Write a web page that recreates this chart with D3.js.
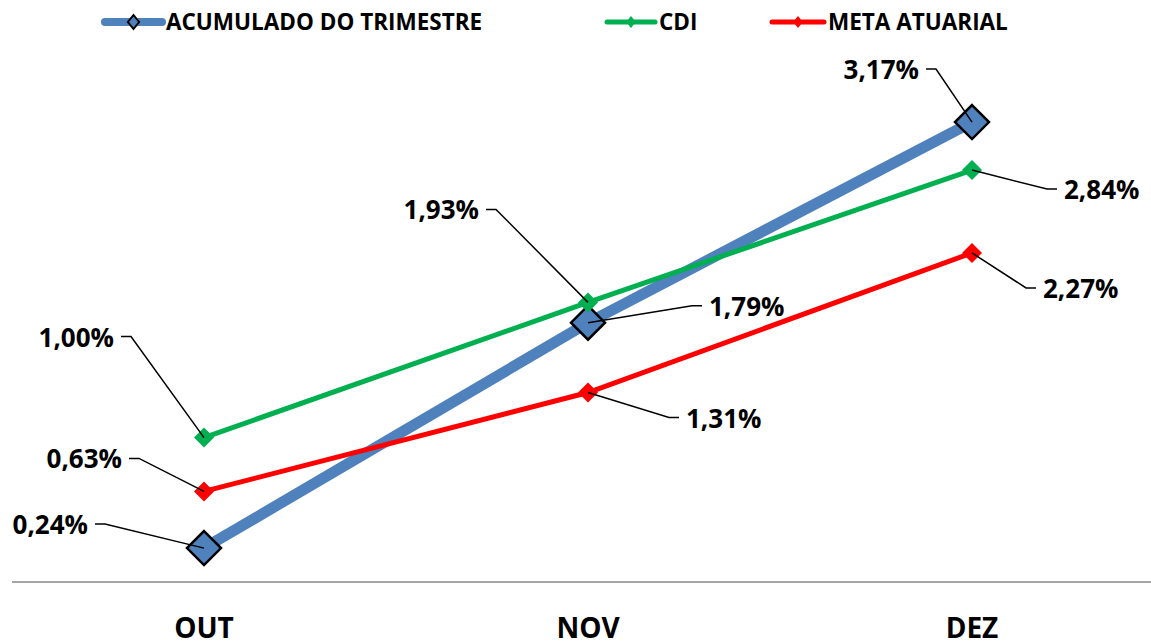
<!DOCTYPE html>
<html>
<head>
<meta charset="utf-8">
<script src="https://cdn.jsdelivr.net/npm/d3@7"></script>
<style>
  body { margin: 0; background: #fff; }
  svg text { font-family: "Open Sans", "Liberation Sans", sans-serif; font-weight: bold; fill: #000; }
</style>
</head>
<body>
<svg id="chart" width="1151" height="641"></svg>
<script>
const months = ['OUT', 'NOV', 'DEZ'];
const acumulado = [0.24, 1.79, 3.17];
const cdi = [1.00, 1.93, 2.84];
const meta = [0.63, 1.31, 2.27];
const seriesNames = ['ACUMULADO DO TRIMESTRE', 'CDI', 'META ATUARIAL'];

const svg = d3.select('#chart');
const x = d3.scalePoint().domain(months).range([204, 972]);
const y = d3.scaleLinear().domain([0, 4]).range([583, 1.4]);

const series = [
  { name: seriesNames[0], values: acumulado, color: '#4f81bd', width: 11, marker: 17, stroke: '#000' },
  { name: seriesNames[1], values: cdi, color: '#00b050', width: 5, marker: 10, stroke: null },
  { name: seriesNames[2], values: meta, color: '#ff0000', width: 5, marker: 10, stroke: null },
];

// label offsets relative to the point (elbow position, side of text)
const labelPos = [
  [{ dx: -99, dy: -24, side: 'left' }, { dx: 104, dy: -17, side: 'right' }, { dx: -36, dy: -53, side: 'left' }],
  [{ dx: -73, dy: -101, side: 'left' }, { dx: -92, dy: -93, side: 'left' }, { dx: 75, dy: 19, side: 'right' }],
  [{ dx: -65, dy: -33, side: 'left' }, { dx: 81, dy: 25, side: 'right' }, { dx: 54, dy: 35, side: 'right' }],
];

// axis baseline
svg.append('line')
  .attr('x1', 12).attr('x2', 1151)
  .attr('y1', 582).attr('y2', 582)
  .attr('stroke', '#a6a6a6').attr('stroke-width', 2);

svg.selectAll('.xlab').data(months).join('text')
  .attr('class', 'xlab')
  .attr('x', d => x(d)).attr('y', 638)
  .attr('text-anchor', 'middle')
  .attr('font-size', 28)
  .text(d => d);

const line = d3.line().x((d, i) => x(months[i])).y(d => y(d));
const fmt = v => v.toFixed(2).replace('.', ',') + '%';

series.forEach(s => {
  svg.append('path')
    .attr('d', line(s.values))
    .attr('fill', 'none')
    .attr('stroke', s.color)
    .attr('stroke-width', s.width);
});

series.forEach(s => {
  s.values.forEach((v, i) => {
    const px = x(months[i]), py = y(v);
    const m = s.marker;
    svg.append('path')
      .attr('d', `M${px},${py - m}L${px + m},${py}L${px},${py + m}L${px - m},${py}Z`)
      .attr('fill', s.color)
      .attr('stroke', s.stroke || 'none')
      .attr('stroke-width', 2.5);
  });
});

// data labels with leader lines
series.forEach((s, si) => {
  s.values.forEach((v, i) => {
    const px = x(months[i]), py = y(v);
    const p = labelPos[si][i];
    const ex = px + p.dx, ey = py + p.dy;
    const tx = p.side === 'left' ? ex - 10 : ex + 10;
    svg.append('polyline')
      .attr('points', `${tx},${ey} ${ex},${ey} ${px},${py}`)
      .attr('fill', 'none')
      .attr('stroke', '#000')
      .attr('stroke-width', 1.5);
    svg.append('text')
      .attr('x', p.side === 'left' ? tx - 7 : tx + 7)
      .attr('y', ey + 10)
      .attr('text-anchor', p.side === 'left' ? 'end' : 'start')
      .attr('font-size', 26)
      .text(fmt(v));
  });
});

// legend
const legendItems = [
  { s: series[0], x0: 105, x1: 162, tx: 166 },
  { s: series[1], x0: 607, x1: 655, tx: 659 },
  { s: series[2], x0: 772, x1: 824, tx: 828 },
];
const ly = 22;
legendItems.forEach(d => {
  const big = d.s === series[0];
  svg.append('line')
    .attr('x1', d.x0).attr('x2', d.x1).attr('y1', ly).attr('y2', ly)
    .attr('stroke', d.s.color).attr('stroke-width', big ? 8 : 5)
    .attr('stroke-linecap', 'round');
  const cx = (d.x0 + d.x1) / 2;
  const m = big ? 7 : 6;
  svg.append('path')
    .attr('d', `M${cx},${ly - m}L${cx + m * 0.8},${ly}L${cx},${ly + m}L${cx - m * 0.8},${ly}Z`)
    .attr('fill', d.s.color)
    .attr('stroke', d.s.stroke || 'none')
    .attr('stroke-width', 2);
  svg.append('text')
    .attr('x', d.tx).attr('y', ly + 8)
    .attr('font-size', 22.5)
    .text(d.s.name);
});
</script>
</body>
</html>
